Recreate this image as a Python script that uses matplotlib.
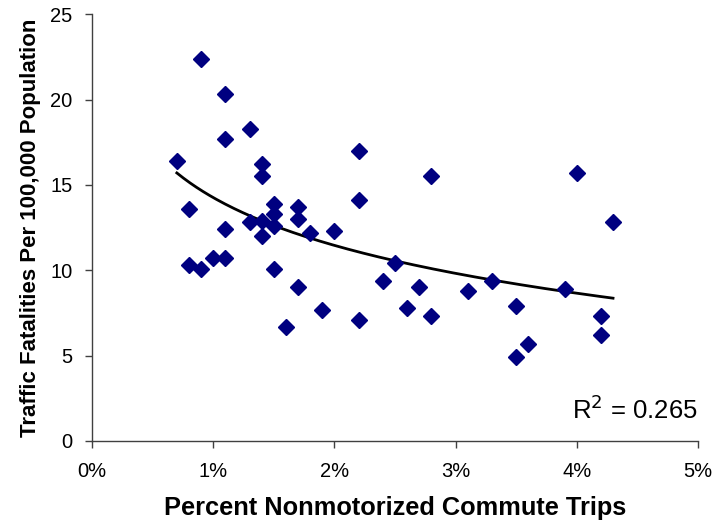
import numpy as np
import matplotlib
matplotlib.use("Agg")
import matplotlib.pyplot as plt
from matplotlib.ticker import FuncFormatter

plt.rcParams['font.family'] = ['Liberation Sans', 'DejaVu Sans']

# Percent nonmotorized commute trips (%)
pct_nonmotorized = [0.7, 0.9, 1.1, 1.1, 1.3, 1.4, 1.4, 0.8, 1.5, 1.7,
                    1.7, 1.5, 1.3, 1.4, 1.5, 1.4, 1.1, 1.8, 2.0, 0.8,
                    0.9, 1.0, 1.1, 1.5, 1.7, 1.9, 1.6, 2.2, 2.2, 2.2,
                    2.4, 2.5, 2.6, 2.7, 2.8, 2.8, 3.1, 3.3, 3.5, 3.5,
                    3.6, 4.0, 3.9, 4.3, 4.2, 4.2]
# Traffic fatalities per 100,000 population
fatalities = [16.4, 22.4, 20.3, 17.7, 18.3, 16.2, 15.5, 13.6, 13.9, 13.7,
              13.0, 13.3, 12.8, 12.9, 12.6, 12.0, 12.4, 12.2, 12.3, 10.3,
              10.1, 10.7, 10.7, 10.1, 9.0, 7.7, 6.7, 17.0, 14.1, 7.1,
              9.4, 10.4, 7.8, 9.0, 15.5, 7.3, 8.8, 9.4, 7.9, 4.9,
              5.7, 15.7, 8.9, 12.8, 7.3, 6.2]

x_ticks = [0, 1, 2, 3, 4, 5]
y_ticks = [0, 5, 10, 15, 20, 25]
r2_label = "R$^2$ = 0.265"

x = np.array(pct_nonmotorized)
y = np.array(fatalities)
a, b = np.polyfit(np.log(x), y, 1)
xt = np.linspace(x.min(), x.max(), 200)
yt = a * np.log(xt) + b

fig = plt.figure(figsize=(7.15, 5.25), dpi=100)
ax = fig.add_axes([0.1287, 0.16, 0.976 - 0.1287, 0.973 - 0.16])

ax.plot(xt, yt, color='black', lw=2, zorder=2)
ax.plot(x, y, linestyle='none', marker='D', markersize=7.8,
        color='#000080', markeredgecolor='#000080', zorder=3)

ax.set_xlim(0, 5)
ax.set_ylim(0, 25)
ax.set_xticks(x_ticks)
ax.set_yticks(y_ticks)
ax.xaxis.set_major_formatter(FuncFormatter(lambda v, p: f"{v:.0f}%"))
for s in ['top', 'right']:
    ax.spines[s].set_visible(False)
for s in ['left', 'bottom']:
    ax.spines[s].set_color('#404040')
    ax.spines[s].set_linewidth(1)
ax.tick_params(direction='out', length=5, width=1, colors='#404040',
               labelsize=14.5, labelcolor='black')
ax.tick_params(axis='y', pad=9)
ax.tick_params(axis='x', pad=10)

ax.set_xlabel("Percent Nonmotorized Commute Trips", fontsize=18.3,
              fontweight='bold', labelpad=11)
ax.set_ylabel("Traffic Fatalities Per 100,000 Population", fontsize=16,
              fontweight='bold', labelpad=7)

ax.text(1.0, 0.052, r2_label, transform=ax.transAxes, ha='right',
        va='baseline', fontsize=18.5)

fig.savefig("out.png", dpi=100)
